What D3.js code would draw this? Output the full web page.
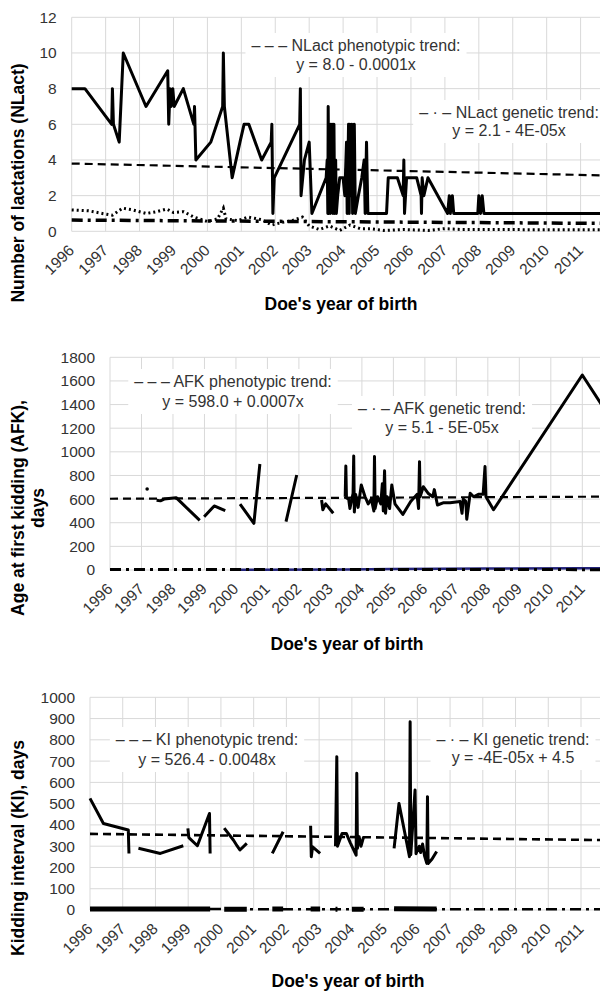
<!DOCTYPE html>
<html>
<head>
<meta charset="utf-8">
<script src="https://cdnjs.cloudflare.com/ajax/libs/d3/7.8.5/d3.min.js"></script>
<style>
  body { margin: 0; background: #fff; }
  svg text { font-family: "Liberation Sans", Arial, sans-serif; }
</style>
</head>
<body>
<div id="chart"></div>
<script>
/*
 * Three trend panels: NLact, AFK, KI by doe's year of birth
 */

// ---- data ----
var yearTicks = [1996, 1997, 1998, 1999, 2000, 2001, 2002, 2003, 2004, 2005, 2006, 2007, 2008, 2009, 2010, 2011];
var nlactTicks = [0, 2, 4, 6, 8, 10, 12];
var afkTicks = [0, 200, 400, 600, 800, 1000, 1200, 1400, 1600, 1800];
var kiTicks = [0, 100, 200, 300, 400, 500, 600, 700, 800, 900, 1000];

// number of lactations, phenotypic means
var nlactPheno = [
  [1996.0, 8], [1996.39, 8], [1997.18, 6], [1997.2, 8], [1997.23, 6], [1997.4, 5], [1997.52, 10],
  [1998.19, 7], [1998.83, 9], [1998.86, 6], [1998.9, 8], [1998.93, 7], [1998.98, 8], [1999.02, 7],
  [1999.29, 8], [1999.6, 6], [1999.62, 7], [1999.66, 4], [2000.1, 5], [2000.45, 7], [2000.47, 10],
  [2000.5, 7], [2000.73, 3], [2000.96, 5], [2001.08, 6], [2001.22, 6], [2001.6, 4], [2001.88, 5],
  [2001.9, 6], [2001.93, 1], [2001.97, 3], [2002.72, 6], [2002.74, 8], [2002.76, 2], [2002.86, 4],
  [2003.0, 5], [2003.08, 1], [2003.5, 3], [2003.53, 4], [2003.55, 1], [2003.56, 7], [2003.58, 1],
  [2003.6, 6], [2003.62, 1], [2003.64, 6], [2003.66, 2], [2003.68, 6], [2003.7, 1], [2003.73, 6],
  [2003.75, 1], [2003.78, 4], [2003.8, 1], [2003.84, 2], [2003.9, 3], [2004.0, 3], [2004.05, 2],
  [2004.1, 5], [2004.12, 1], [2004.16, 6], [2004.18, 1], [2004.2, 6], [2004.23, 2], [2004.26, 6],
  [2004.28, 1], [2004.33, 6], [2004.36, 1], [2004.45, 2], [2004.55, 3], [2004.62, 4], [2004.65, 1],
  [2004.69, 5], [2004.73, 1], [2005.28, 1], [2005.33, 3], [2005.6, 3], [2005.77, 2], [2005.79, 4],
  [2005.81, 1], [2005.87, 3], [2006.17, 3], [2006.3, 2], [2006.31, 1], [2006.33, 3], [2006.38, 2],
  [2006.5, 3], [2007.08, 1], [2007.13, 2], [2007.16, 1], [2007.22, 2], [2007.26, 1], [2007.97, 1],
  [2008.0, 2], [2008.05, 1], [2008.1, 2], [2008.15, 1], [2012.0, 1]
];
// number of lactations, genetic values (dotted)
var nlactGenValues = [
  [1996.0, 1.2], [1996.5, 1.15], [1996.9, 1.0], [1997.2, 0.9], [1997.5, 1.3], [1997.8, 1.2],
  [1998.2, 1.0], [1998.5, 1.1], [1998.8, 1.25], [1999.0, 1.05], [1999.3, 1.1], [1999.6, 0.8],
  [2000.0, 0.55], [2000.3, 0.7], [2000.47, 1.3], [2000.55, 0.7], [2000.9, 0.6], [2001.2, 0.8],
  [2001.6, 0.65], [2001.9, 0.35], [2002.2, 0.5], [2002.5, 0.6], [2002.8, 0.8], [2003.0, 0.3],
  [2003.3, 0.1], [2003.6, 0.3], [2003.9, 0.05], [2004.2, 0.35], [2004.5, 0.15], [2004.8, 0.15],
  [2005.2, 0.05], [2005.8, 0.1], [2006.5, 0.05], [2007.0, 0.15], [2007.5, 0.1], [2008.0, 0.1],
  [2012.0, 0.08]
];
var nlactPhenoTrend = [[1996, 3.8], [2012, 3.12]];
var nlactGenTrend = [[1996, 0.63], [2012, 0.44]];

// age at first kidding (null = gap in the line)
var afkPheno = [
  [1997.48, 590], [1997.6, 585], [1997.72, 600], [1998.1, 612], [1998.85, 420], null,
  [1998.99, 451], [1999.31, 542], [1999.66, 502], null,
  [2000.13, 558], [2000.57, 395], [2000.76, 897], null,
  [2001.59, 409], [2001.93, 804], null,
  [2002.72, 592], [2002.76, 510], [2002.85, 560], [2003.09, 480], null,
  [2003.47, 620], [2003.49, 880], [2003.51, 610], [2003.58, 600], [2003.62, 520], [2003.72, 650],
  [2003.74, 965], [2003.76, 490], [2003.8, 640], [2003.88, 530], [2003.98, 720], [2004.1, 620],
  [2004.2, 560], [2004.3, 600], [2004.38, 500], [2004.4, 960], [2004.42, 520], [2004.5, 620],
  [2004.6, 560], [2004.65, 730], [2004.68, 500], [2004.72, 840], [2004.75, 480], [2004.8, 620],
  [2004.88, 520], [2004.95, 720], [2005.05, 560], [2005.3, 470], [2005.55, 580], [2005.75, 640],
  [2005.8, 520], [2005.83, 917], [2005.85, 620], [2005.95, 705], [2006.1, 650], [2006.25, 620],
  [2006.3, 680], [2006.4, 550], [2006.6, 570], [2006.8, 570], [2007.12, 580], [2007.18, 480],
  [2007.22, 600], [2007.3, 580], [2007.33, 430], [2007.44, 650], [2007.55, 620], [2007.7, 640],
  [2007.85, 640], [2007.91, 875], [2007.94, 620], [2008.18, 510], [2011.0, 1650], [2012.0, 1240]
];
var afkDots = [[1997.18, 685]];
var afkGenValues = [[2000.1, 2], [2003.5, 5], [2005.0, 8], [2008.0, 12], [2011.0, 15], [2012.0, 15]];
var afkPhenoTrend = [[1996, 603], [2012, 621]];
var afkGenTrend = [[1996, 5], [2012, 3]];

// kidding interval
var kiPheno = [
  [1996.0, 525], [1996.41, 407], [1997.17, 376], [1997.19, 266], null,
  [1997.48, 290], [1998.15, 266], [1998.85, 302], null,
  [1998.99, 384], [1999.02, 340], [1999.28, 302], [1999.65, 454], [1999.67, 266], null,
  [2000.1, 385], [2000.38, 329], [2000.5, 300], [2000.58, 282], [2000.79, 313], null,
  [2001.57, 266], [2001.9, 368], null,
  [2002.74, 396], [2002.76, 250], [2002.8, 297], [2003.03, 266], null,
  [2003.5, 300], [2003.54, 721], [2003.56, 300], [2003.7, 360], [2003.83, 360], [2003.95, 317],
  [2004.13, 258], [2004.15, 643], [2004.17, 290], [2004.22, 345], [2004.28, 300], [2004.36, 345], null,
  [2005.29, 290], [2005.44, 501], [2005.76, 251], [2005.78, 885], [2005.8, 260], [2005.93, 564],
  [2005.96, 265], [2006.06, 300], [2006.1, 270], [2006.16, 310], [2006.22, 255], [2006.29, 219],
  [2006.31, 533], [2006.33, 219], [2006.45, 240], [2006.59, 275]
];
var kiGenValues = [
  [1996.0, 5], [1999.67, 5], null, [2000.1, 4], [2000.79, 4], null, [2001.57, 5], [2001.9, 5], null,
  [2002.74, 5], [2003.03, 5], null, [2003.5, 4], [2003.56, 4], null, [2004.0, 4], [2004.36, 4], null,
  [2005.29, 6], [2006.59, 5]
];
var kiPhenoTrend = [[1996, 358], [2012, 328]];
var kiGenTrend = [[1996, 4.5], [2012, 3.0]];

// ---- space ----
var width = 600, height = 992;

var svg = d3.select("#chart").append("svg")
    .attr("width", width)
    .attr("height", height);

var panels = [
  {
    xRange: [71.7, 580.6], yRange: [231.3, 17.3], yMax: 12, yTicks: nlactTicks,
    yTitle: ["Number of lactations  (NLact)"], yTitleX: [24], yTitleY: 183,
    xTitleX: 341, xTitleY: 310,
    pheno: nlactPheno, dots: [], genValues: nlactGenValues, genStyle: "dotted",
    phenoTrend: nlactPhenoTrend, trendWidth: 2.2, genTrend: nlactGenTrend, genTrendWidth: 3.5,
    notes: [
      { x: 356, y: 51, lines: ["\u2013 \u2013 \u2013 NLact phenotypic trend:", "y = 8.0 - 0.0001x"], dy: 19 },
      { x: 509, y: 118, lines: ["\u2013 \u00b7 \u2013 NLact genetic trend:", "y = 2.1 - 4E-05x"], dy: 18 }
    ]
  },
  {
    xRange: [110, 582.3], yRange: [570, 357.3], yMax: 1800, yTicks: afkTicks,
    yTitle: ["Age at first kidding (AFK),", "days"], yTitleX: [24, 44], yTitleY: 508,
    xTitleX: 347, xTitleY: 650,
    pheno: afkPheno, dots: afkDots, genValues: afkGenValues, genStyle: "navy",
    phenoTrend: afkPhenoTrend, trendWidth: 2.2, genTrend: afkGenTrend, genTrendWidth: 3,
    notes: [
      { x: 233, y: 387, lines: ["\u2013 \u2013 \u2013 AFK phenotypic trend:", "y = 598.0 + 0.0007x"], dy: 20 },
      { x: 442, y: 414, lines: ["\u2013 \u00b7 \u2013 AFK genetic trend:", "y = 5.1 - 5E-05x"], dy: 19 }
    ]
  },
  {
    xRange: [90, 581], yRange: [910, 697.3], yMax: 1000, yTicks: kiTicks,
    yTitle: ["Kidding interval (KI), days"], yTitleX: [24], yTitleY: 848,
    xTitleX: 348, xTitleY: 987,
    pheno: kiPheno, dots: [], genValues: kiGenValues, genStyle: "thick",
    phenoTrend: kiPhenoTrend, trendWidth: 2.6, genTrend: kiGenTrend, genTrendWidth: 2.5,
    notes: [
      { x: 207, y: 745, lines: ["\u2013 \u2013 \u2013 KI phenotypic trend:", "y = 526.4 - 0.0048x"], dy: 20 },
      { x: 513, y: 745, lines: ["\u2013 \u00b7 \u2013 KI genetic trend:", "y = -4E-05x + 4.5"], dy: 18 }
    ]
  }
];

panels.forEach(drawPanel);

function drawPanel(p) {
    var g = svg.append("g");

    var x = d3.scaleLinear().domain([1996, 2011]).range(p.xRange);
    var y = d3.scaleLinear().domain([0, p.yMax]).range(p.yRange);

    var line = d3.line()
        .defined(function (d) { return d !== null; })
        .x(function (d) { return x(d[0]); })
        .y(function (d) { return y(d[1]); });

    // grid
    g.append("g").selectAll("line")
        .data(p.yTicks)
        .enter().append("line")
        .attr("x1", x(1996)).attr("x2", width)
        .attr("y1", function (d) { return y(d); })
        .attr("y2", function (d) { return y(d); })
        .style("stroke", "#d9d9d9");

    g.append("g").selectAll("line")
        .data(yearTicks)
        .enter().append("line")
        .attr("x1", function (d) { return x(d); })
        .attr("x2", function (d) { return x(d); })
        .attr("y1", y(p.yMax)).attr("y2", y(0))
        .style("stroke", "#d9d9d9");

    // axes
    var yAxis = g.append("g")
        .attr("transform", "translate(" + x(1996) + ",0)")
        .call(d3.axisLeft(y).tickValues(p.yTicks).tickFormat(d3.format("d")).tickSize(0).tickPadding(15));
    yAxis.select(".domain").remove();
    yAxis.selectAll("text")
        .style("font-size", "15.5px")
        .style("font-family", "'Liberation Sans', Arial, sans-serif")
        .style("fill", "#333");

    var xAxis = g.append("g")
        .attr("transform", "translate(0," + y(0) + ")")
        .call(d3.axisBottom(x).tickValues(yearTicks).tickFormat(d3.format("d")).tickSize(0));
    xAxis.select(".domain").remove();
    xAxis.selectAll("text")
        .attr("y", 0).attr("dy", 0)
        .attr("text-anchor", "end")
        .attr("transform", "translate(3,20) rotate(-45)")
        .style("font-size", "15.5px")
        .style("font-family", "'Liberation Sans', Arial, sans-serif")
        .style("fill", "#333");

    // axis titles
    g.append("text")
        .attr("x", p.xTitleX).attr("y", p.xTitleY)
        .attr("text-anchor", "middle")
        .style("font-size", "17.5px").style("font-weight", "bold")
        .text("Doe's year of birth");

    p.yTitle.forEach(function (t, i) {
        g.append("text")
            .attr("transform", "translate(" + p.yTitleX[i] + "," + p.yTitleY + ") rotate(-90)")
            .attr("text-anchor", "middle")
            .style("font-size", "17.5px").style("font-weight", "bold")
            .text(t);
    });

    // trend notes with white boxes
    p.notes.forEach(function (n) {
        var box = g.append("rect").style("fill", "#fff");
        var t = g.append("text")
            .attr("text-anchor", "middle")
            .style("font-size", "16px")
            .style("fill", "#333");
        n.lines.forEach(function (s, i) {
            t.append("tspan").attr("x", n.x).attr("y", n.y + i * n.dy).text(s);
        });
        var bb = t.node().getBBox();
        box.attr("x", bb.x - 6).attr("y", bb.y - 4)
            .attr("width", bb.width + 12).attr("height", bb.height + 8);
    });

    // genetic values
    var gen = g.append("path")
        .datum(p.genValues)
        .attr("d", line)
        .style("fill", "none");
    if (p.genStyle === "dotted") {
        gen.style("stroke", "#000").style("stroke-width", 3).style("stroke-dasharray", "2,3");
    } else if (p.genStyle === "navy") {
        gen.style("stroke", "#23237a").style("stroke-width", 2.5);
    } else {
        gen.style("stroke", "#000").style("stroke-width", 5);
    }

    // genetic trend (dash-dot)
    g.append("path")
        .datum(p.genTrend)
        .attr("d", line)
        .style("fill", "none")
        .style("stroke", "#000")
        .style("stroke-width", p.genTrendWidth)
        .style("stroke-dasharray", "11,5,3,5");

    // phenotypic trend (dashed)
    g.append("path")
        .datum(p.phenoTrend)
        .attr("d", line)
        .style("fill", "none")
        .style("stroke", "#000")
        .style("stroke-width", p.trendWidth)
        .style("stroke-dasharray", "8,5");

    // phenotypic means
    g.append("path")
        .datum(p.pheno)
        .attr("d", line)
        .style("fill", "none")
        .style("stroke", "#000")
        .style("stroke-width", 3)
        .style("stroke-linejoin", "round");

    g.selectAll(".dot")
        .data(p.dots)
        .enter().append("circle")
        .attr("cx", function (d) { return x(d[0]); })
        .attr("cy", function (d) { return y(d[1]); })
        .attr("r", 1.8)
        .style("fill", "#000");
}
</script>
</body>
</html>
